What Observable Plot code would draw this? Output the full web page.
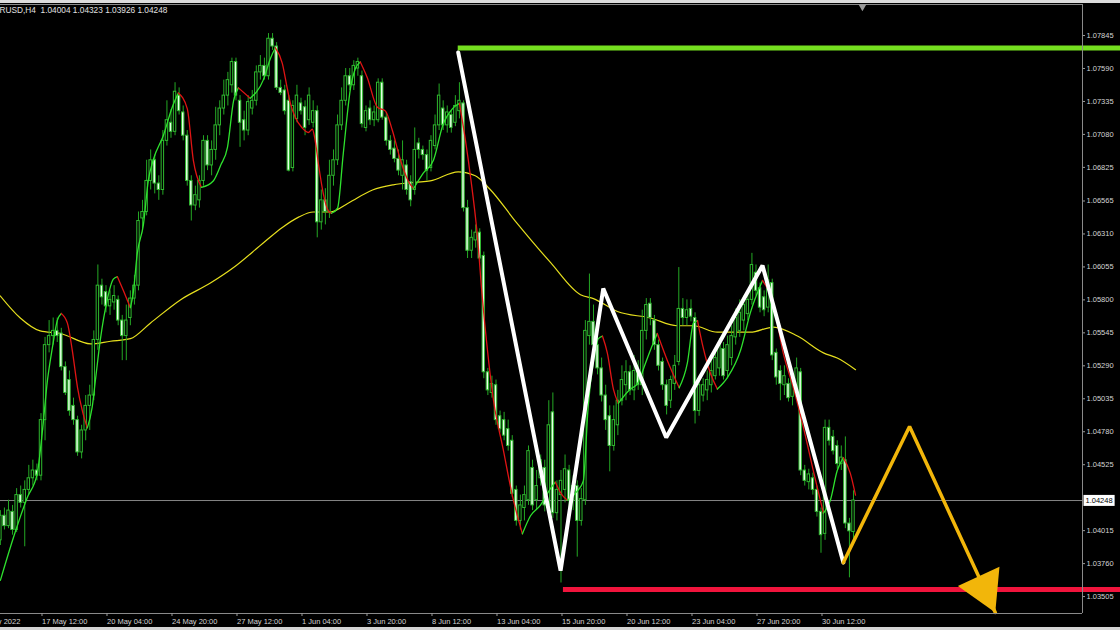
<!DOCTYPE html>
<html><head><meta charset="utf-8">
<script src="https://cdn.jsdelivr.net/npm/d3@7"></script>
<script src="https://cdn.jsdelivr.net/npm/@observablehq/plot@0.6"></script>
<style>
html,body{margin:0;padding:0;background:#000;width:1120px;height:630px;overflow:hidden;}
#topstrip{height:3px;background:#dcdcdc;}
#botstrip{height:3px;background:#d4d4d4;}
#wrap{position:relative;height:624px;}
#title{position:absolute;left:-12px;top:2px;font:8.3px "Liberation Sans",Arial,sans-serif;color:#e0e0e0;white-space:pre;}
</style></head>
<body>
<div id="topstrip"></div>
<div id="wrap"><div id="title">EURUSD,H4  1.04004 1.04323 1.03926 1.04248</div></div>
<div id="botstrip"></div>
<script>
// ---- candle data (H4 bars, index 0 = first visible bar) ----
const barOpen = [
1.0394,1.0413,1.0405,1.0416,1.0402,1.0429,1.0423,1.0433,1.0442,1.0448,
1.0444,1.0487,1.0545,1.0552,1.0556,1.0554,1.0528,1.0518,1.0498,1.0487,
1.0462,1.0479,1.0498,1.0506,1.0549,1.0591,1.0586,1.0575,1.0578,1.0580,
1.0564,1.0552,1.0566,1.0581,1.0591,1.0643,1.0648,1.0672,1.0688,1.0670,
1.0665,1.0703,1.0717,1.0710,1.0738,1.0725,1.0707,1.0672,1.0653,1.0657,
1.0672,1.0703,1.0684,1.0696,1.0715,1.0728,1.0738,1.0746,1.0764,1.0734,
1.0719,1.0711,1.0728,1.0734,1.0756,1.0761,1.0753,1.0782,1.0776,1.0744,
1.0742,1.0734,1.0682,1.0720,1.0732,1.0729,1.0719,1.0717,1.0726,1.0640,
1.0657,1.0648,1.0676,1.0688,1.0715,1.0734,1.0753,1.0746,1.0759,1.0753,
1.0713,1.0728,1.0719,1.0719,1.0748,1.0721,1.0703,1.0697,1.0689,1.0676,
1.0684,1.0671,1.0665,1.0701,1.0696,1.0692,1.0682,1.0699,1.0715,1.0728,
1.0715,1.0723,1.0717,1.0726,1.0732,1.0651,1.0618,1.0626,1.0632,1.0614,
1.0524,1.0508,1.0514,1.0490,1.0487,1.0480,1.0471,1.0433,1.0409,1.0419,
1.0425,1.0450,1.0425,1.0442,1.0450,1.0421,1.0493,1.0415,1.0429,1.0433,
1.0448,1.0425,1.0436,1.0409,1.0425,1.0552,1.0563,1.0545,1.0527,1.0506,
1.0490,1.0467,1.0483,1.0502,1.0514,1.0524,1.0510,1.0525,1.0514,1.0556,
1.0577,1.0564,1.0545,1.0532,1.0514,1.0502,1.0515,1.0532,1.0573,1.0566,
1.0573,1.0566,1.0494,1.0506,1.0510,1.0514,1.0521,1.0527,1.0542,1.0525,
1.0535,1.0551,1.0556,1.0564,1.0569,1.0580,1.0601,1.0589,1.0582,1.0574,
1.0593,1.0539,1.0525,1.0514,1.0515,1.0505,1.0510,1.0524,1.0448,1.0439,
1.0442,1.0433,1.0416,1.0399,1.0481,1.0474,1.0467,1.0453,1.0456,1.0407,
1.04004];
const barHigh = [
1.0417,1.0419,1.0425,1.0421,1.0434,1.0436,1.0440,1.0452,1.0456,1.0453,
1.0492,1.0551,1.0564,1.0566,1.0566,1.0558,1.0532,1.0525,1.0504,1.0490,
1.0483,1.0506,1.0514,1.0556,1.0607,1.0596,1.0591,1.0587,1.0591,1.0583,
1.0568,1.0576,1.0587,1.0599,1.0648,1.0657,1.0688,1.0696,1.0692,1.0676,
1.0711,1.0734,1.0727,1.0748,1.0744,1.0730,1.0711,1.0676,1.0668,1.0676,
1.0707,1.0707,1.0703,1.0729,1.0734,1.0750,1.0756,1.0767,1.0767,1.0738,
1.0726,1.0738,1.0742,1.0761,1.0769,1.0767,1.0786,1.0786,1.0779,1.0750,
1.0746,1.0738,1.0734,1.0746,1.0736,1.0734,1.0744,1.0734,1.0730,1.0665,
1.0666,1.0688,1.0696,1.0723,1.0744,1.0759,1.0759,1.0765,1.0767,1.0757,
1.0730,1.0734,1.0730,1.0751,1.0751,1.0725,1.0707,1.0703,1.0696,1.0703,
1.0688,1.0676,1.0713,1.0705,1.0699,1.0696,1.0707,1.0723,1.0747,1.0734,
1.0730,1.0726,1.0738,1.0748,1.0734,1.0657,1.0634,1.0638,1.0635,1.0617,
1.0527,1.0521,1.0518,1.0494,1.0493,1.0487,1.0475,1.0436,1.0429,1.0436,
1.0467,1.0456,1.0448,1.0460,1.0456,1.0502,1.0508,1.0440,1.0448,1.0460,
1.0452,1.0444,1.0440,1.0434,1.0564,1.0600,1.0576,1.0552,1.0535,1.0514,
1.0498,1.0498,1.0510,1.0529,1.0533,1.0529,1.0537,1.0533,1.0572,1.0581,
1.0581,1.0568,1.0549,1.0535,1.0518,1.0521,1.0537,1.0605,1.0581,1.0580,
1.0580,1.0570,1.0521,1.0519,1.0525,1.0533,1.0542,1.0550,1.0547,1.0552,
1.0560,1.0573,1.0580,1.0583,1.0586,1.0616,1.0607,1.0593,1.0587,1.0607,
1.0596,1.0542,1.0529,1.0529,1.0519,1.0525,1.0535,1.0527,1.0452,1.0449,
1.0446,1.0436,1.0419,1.0487,1.0487,1.0479,1.0471,1.0467,1.0474,1.0411,
1.04323];
const barLow = [
1.0390,1.0402,1.0403,1.0398,1.0400,1.0419,1.0389,1.0429,1.0436,1.0440,
1.0440,1.0471,1.0539,1.0545,1.0547,1.0525,1.0506,1.0490,1.0483,1.0459,
1.0457,1.0471,1.0479,1.0502,1.0541,1.0576,1.0570,1.0568,1.0572,1.0560,
1.0533,1.0533,1.0560,1.0576,1.0587,1.0635,1.0645,1.0665,1.0662,1.0657,
1.0661,1.0699,1.0705,1.0707,1.0723,1.0703,1.0668,1.0641,1.0649,1.0651,
1.0668,1.0680,1.0676,1.0688,1.0707,1.0723,1.0730,1.0740,1.0734,1.0698,
1.0703,1.0707,1.0723,1.0730,1.0750,1.0750,1.0750,1.0773,1.0742,1.0738,
1.0723,1.0679,1.0679,1.0717,1.0723,1.0707,1.0715,1.0713,1.0628,1.0634,
1.0638,1.0643,1.0668,1.0684,1.0711,1.0730,1.0742,1.0742,1.0753,1.0713,
1.0710,1.0715,1.0714,1.0717,1.0719,1.0699,1.0692,1.0686,1.0676,1.0665,
1.0661,1.0652,1.0661,1.0689,1.0688,1.0672,1.0679,1.0696,1.0711,1.0711,
1.0709,1.0709,1.0714,1.0720,1.0648,1.0612,1.0612,1.0620,1.0609,1.0519,
1.0506,1.0504,1.0483,1.0477,1.0471,1.0463,1.0427,1.0405,1.0402,1.0409,
1.0421,1.0417,1.0417,1.0436,1.0416,1.0417,1.0411,1.0409,1.0361,1.0423,
1.0419,1.0417,1.0381,1.0405,1.0421,1.0545,1.0537,1.0522,1.0501,1.0479,
1.0447,1.0463,1.0475,1.0498,1.0502,1.0506,1.0502,1.0510,1.0506,1.0549,
1.0560,1.0541,1.0525,1.0510,1.0491,1.0496,1.0510,1.0529,1.0560,1.0560,
1.0563,1.0484,1.0490,1.0501,1.0502,1.0508,1.0518,1.0521,1.0518,1.0519,
1.0529,1.0545,1.0551,1.0556,1.0564,1.0576,1.0583,1.0570,1.0567,1.0570,
1.0533,1.0514,1.0502,1.0506,1.0501,1.0498,1.0505,1.0444,1.0436,1.0433,
1.0429,1.0412,1.0384,1.0394,1.0467,1.0460,1.0449,1.0448,1.0403,1.0365,
1.03926];
const barClose = [
1.0413,1.0405,1.0417,1.0402,1.0429,1.0423,1.0433,1.0442,1.0448,1.0444,
1.0487,1.0545,1.0552,1.0556,1.0552,1.0528,1.0508,1.0494,1.0487,1.0462,
1.0479,1.0498,1.0506,1.0549,1.0591,1.0582,1.0575,1.0580,1.0583,1.0564,
1.0552,1.0564,1.0581,1.0591,1.0641,1.0648,1.0672,1.0688,1.0670,1.0665,
1.0703,1.0719,1.0710,1.0741,1.0726,1.0707,1.0672,1.0653,1.0661,1.0672,
1.0703,1.0684,1.0696,1.0715,1.0728,1.0738,1.0750,1.0764,1.0738,1.0717,
1.0711,1.0733,1.0734,1.0756,1.0761,1.0753,1.0782,1.0776,1.0744,1.0740,
1.0726,1.0680,1.0730,1.0738,1.0726,1.0713,1.0738,1.0726,1.0640,1.0657,
1.0648,1.0676,1.0688,1.0715,1.0734,1.0753,1.0746,1.0761,1.0764,1.0716,
1.0726,1.0719,1.0725,1.0748,1.0721,1.0703,1.0696,1.0689,1.0680,1.0688,
1.0665,1.0657,1.0696,1.0696,1.0692,1.0680,1.0703,1.0715,1.0738,1.0715,
1.0725,1.0713,1.0730,1.0734,1.0651,1.0618,1.0628,1.0632,1.0612,1.0524,
1.0510,1.0515,1.0487,1.0480,1.0475,1.0467,1.0430,1.0409,1.0421,1.0429,
1.0463,1.0421,1.0436,1.0456,1.0421,1.0483,1.0415,1.0433,1.0440,1.0449,
1.0425,1.0436,1.0409,1.0426,1.0556,1.0563,1.0545,1.0527,1.0506,1.0487,
1.0467,1.0487,1.0502,1.0518,1.0524,1.0510,1.0525,1.0514,1.0556,1.0576,
1.0566,1.0545,1.0529,1.0514,1.0498,1.0518,1.0529,1.0573,1.0566,1.0572,
1.0567,1.0494,1.0514,1.0514,1.0518,1.0525,1.0535,1.0545,1.0521,1.0545,
1.0552,1.0566,1.0570,1.0576,1.0580,1.0607,1.0587,1.0574,1.0572,1.0595,
1.0537,1.0520,1.0515,1.0521,1.0504,1.0519,1.0527,1.0448,1.0440,1.0445,
1.0433,1.0416,1.0398,1.0481,1.0471,1.0463,1.0453,1.0458,1.0407,1.0401,
1.04248];

// ---- fast moving average, u = rising (green), d = falling (red) ----
const fastBars = [0,3.2,6.6,9.1,10.3,11.6,12.8,14.0,15.0,16.5,17.7,19.0,20.2,21.4,22.6,23.4,24.6,26.3,27.8,28.8,30.3,32.0,32.7,33.7,35.2,36.4,37.7,40.1,42.3,43.8,46.0,47.5,49.5,52.4,54.2,55.9,57.4,58.6,61.5,64.7,66.5,67.7,69.4,70.6,71.4,72.6,74.3,75.8,76.8,77.5,78.3,79.5,80.7,81.5,83.0,84.4,86.2,87.4,88.6,90.3,92.8,94.8,96.5,98.5,100.4,101.7,104.1,106.6,109.0,111.3,113.0,114.5,115.7,117.4,118.6,119.9,121.4,123.8,126.0,128.5,130.5,132.9,135.4,136.6,138.3,139.6,142.0,143.5,144.7,146.0,147.2,148.2,149.4,150.9,152.1,155.1,156.8,158.8,160.0,161.7,164.2,167.1,169.1,170.6,171.6,173.0,174.8,176.5,179.0,182.2,184.6,187.6,190.3,192.7,195.2,197.7,200.1,202.6,204.3,206.0,207.5,209.2,210.5];
const fastPrices = [1.0363,1.0396,1.0427,1.0446,1.0477,1.0518,1.0543,1.0564,1.05695,1.0562,1.0541,1.0512,1.0494,1.0481,1.0497,1.0518,1.0549,1.0580,1.0596,1.0598,1.0587,1.0574,1.0585,1.0616,1.0638,1.0672,1.0689,1.0707,1.0729,1.0740,1.0728,1.0688,1.0667,1.0672,1.0684,1.0698,1.0734,1.0744,1.0736,1.0750,1.0767,1.0775,1.0763,1.0744,1.0732,1.0721,1.0713,1.07095,1.0712,1.0703,1.0685,1.0662,1.0649,1.0647,1.0651,1.0693,1.0744,1.0759,1.0764,1.0752,1.0729,1.0726,1.0711,1.0688,1.0672,1.0666,1.0678,1.0688,1.0716,1.0728,1.0732,1.0703,1.0676,1.0630,1.0583,1.0541,1.0502,1.0464,1.0429,1.0399,1.0413,1.0421,1.0434,1.0439,1.0429,1.0425,1.0432,1.0440,1.0498,1.0533,1.0550,1.0552,1.0539,1.0511,1.0500,1.0511,1.0515,1.0531,1.0541,1.0554,1.0533,1.0512,1.0531,1.0562,1.0564,1.0543,1.0523,1.0511,1.0520,1.0541,1.0570,1.0595,1.0577,1.0539,1.0512,1.0481,1.0448,1.0415,1.0425,1.0448,1.0458,1.0446,1.0429];
const fastDir = ["u","u","u","u","u","u","u","u","d","d","d","d","d","u","u","u","u","u","u","d","d","u","u","u","u","u","u","u","u","d","d","d","u","u","u","u","u","d","u","u","u","d","d","d","d","d","d","d","d","d","d","d","d","u","u","u","u","u","d","d","d","d","d","d","d","u","u","u","u","u","d","d","d","d","d","d","d","d","d","u","u","u","u","d","d","u","u","u","u","u","u","d","d","d","u","u","u","u","u","d","d","u","u","u","d","d","d","u","u","u","u","d","d","d","d","d","d","u","u","u","d","d","d"];

// ---- slow (yellow) moving average ----
const slowBars = [0,4.9,9.8,14.8,22.2,27.1,32.0,36.9,44.3,51.7,57.4,64.7,69.4,73.4,77.0,81.2,85.7,91.6,96.7,102.2,105.8,112.7,116.9,120.4,127.0,135.4,142.8,146.0,151.9,160.0,166.6,170.6,176.5,184.6,190.3,196.2,202.6,206.0,210.5];
const slowPrices = [1.0583,1.0566,1.0556,1.0554,1.0546,1.0548,1.0550,1.0562,1.0580,1.0593,1.0605,1.0624,1.0636,1.0644,1.0648,1.0648,1.0655,1.0665,1.0669,1.0671,1.0672,1.0679,1.0676,1.0666,1.0640,1.0609,1.0584,1.0581,1.0571,1.0566,1.0560,1.0560,1.0555,1.0555,1.0559,1.0552,1.0539,1.0535,1.0526];

// ---- drawn objects ----
const zigBars = [112.7,137.9,148.4,163.9,187.6,207.5];
const zigPrices = [1.07714,1.03706,1.05888,1.04735,1.06066,1.03768];
const arrowBars = [207.5,223.8,244.9];
const arrowPrices = [1.03768,1.04820,1.03382];
const resistance = {fromBar: 112.7, price: 1.07749};
const support = {fromBar: 138.6, price: 1.03560};
const rayEndBar = 276;
const shiftBar = 212.2;

// ---- axes ----
const priceTicks = [1.07845,1.07590,1.07335,1.07080,1.06825,1.06565,1.06310,1.06055,1.05800,1.05545,1.05290,1.05035,1.04780,1.04525,1.04015,1.03760,1.03505];
const timeTickBars = [-6,10,26,42,58,74,90,106,122,138,154,170,186,202];
const timeTickLabels = ["12 May 2022","17 May 12:00","20 May 04:00","24 May 20:00","27 May 12:00","1 Jun 04:00","3 Jun 20:00","8 Jun 12:00","13 Jun 04:00","15 Jun 20:00","20 Jun 12:00","23 Jun 04:00","27 Jun 20:00","30 Jun 12:00"];

const xDomain = [0.031, 266.37];
const yDomain = [1.03374, 1.08085];

const bars = barOpen.map((o, i) => ({i, open: o, high: barHigh[i], low: barLow[i], close: barClose[i]}));
const lastClose = barClose[barClose.length - 1];
const fmt5 = d3.format(".5f");

// fast MA split into coloured runs
const runs = [];
let cur = null;
fastBars.forEach((b, i) => {
  const p = {bar: b, price: fastPrices[i]};
  const dir = fastDir[i];
  if (!cur || cur.dir !== dir) {
    if (cur) cur.pts.push(p);
    if (i < fastBars.length - 1) { cur = {dir, pts: [p]}; runs.push(cur); }
  } else cur.pts.push(p);
});
const fastSeg = runs.flatMap((r, k) => r.pts.map(p => ({...p, run: k, dir: r.dir})));
const slow = slowBars.map((b, i) => ({bar: b, price: slowPrices[i]}));
const zig = zigBars.map((b, i) => ({bar: b, price: zigPrices[i]}));
const arrow = arrowBars.map((b, i) => ({bar: b, price: arrowPrices[i]}));
const labelMap = new Map(timeTickBars.map((b, i) => [b, timeTickLabels[i]]));

const W = 1120, H = 624, mL = 0, mR = 38, mT = 1, mB = 14;
// arrow head orientation from the last arrow segment in screen space
const sx = d3.scaleLinear(xDomain, [mL, W - mR]);
const sy = d3.scaleLinear(yDomain, [H - mB, mT]);
const a0 = arrow[arrow.length - 2], a1 = arrow[arrow.length - 1];
const vx = sx(a1.bar) - sx(a0.bar), vy = sy(a1.price) - sy(a0.price);
const vlen = Math.hypot(vx, vy);
const headR = 17;
const headBack = headR * Math.sqrt(Math.PI) * 2 / Math.sqrt(3 * Math.sqrt(3));
const headRot = Math.atan2(vx, -vy) * 180 / Math.PI;

const green = "#24a824";
const chart = Plot.plot({
  width: W, height: H, marginLeft: mL, marginRight: mR, marginTop: mT, marginBottom: mB,
  style: {background: "#000", color: "#d8d8d8", fontFamily: "'Liberation Sans', Arial, sans-serif", fontSize: "7.5px"},
  x: {type: "linear", domain: xDomain, axis: null},
  y: {type: "linear", domain: yDomain, axis: null},
  marks: [
    Plot.ruleY([lastClose], {stroke: "#858585", strokeWidth: 1}),
    Plot.line(slow, {x: "bar", y: "price", stroke: "#e6df1e", strokeWidth: 1.2, curve: "monotone-x", clip: true}),
    Plot.ruleX(bars, {x: "i", y1: "low", y2: "high", stroke: green, strokeWidth: 1, clip: true}),
    Plot.rect(bars, {x1: d => d.i - 0.3, x2: d => d.i + 0.3, y1: "open", y2: "close",
      fill: d => d.close >= d.open ? "#000" : "#e8ffe8", stroke: "#2fb82f", strokeWidth: 1, clip: true}),
    Plot.line(fastSeg, {x: "bar", y: "price", z: "run", stroke: d => d.dir === "u" ? "#2ee22e" : "#e01414", strokeWidth: 1.3, curve: "monotone-x", clip: true}),
    Plot.ruleY([resistance], {y: "price", x1: "fromBar", x2: () => rayEndBar, stroke: "#74de1f", strokeWidth: 5}),
    Plot.ruleY([support], {y: "price", x1: "fromBar", x2: () => rayEndBar, stroke: "#f0143c", strokeWidth: 5}),
    Plot.line(zig, {x: "bar", y: "price", stroke: "#ffffff", strokeWidth: 4, strokeLinejoin: "miter"}),
    Plot.line(arrow, {x: "bar", y: "price", stroke: "#f2b60a", strokeWidth: 3.5, strokeLinejoin: "miter"}),
    Plot.dot([a1], {x: "bar", y: "price", symbol: "triangle", r: headR, rotate: headRot, fill: "#f2b60a", stroke: null,
      dx: -vx / vlen * headBack, dy: -vy / vlen * headBack}),
    Plot.ruleX([xDomain[1]], {stroke: "#8a8a8a"}),
    Plot.ruleY([yDomain[0]], {stroke: "#8a8a8a"}),
    Plot.ruleY([yDomain[1]], {stroke: "#8a8a8a"}),
    Plot.dot([shiftBar], {x: d => d, y: () => yDomain[1], symbol: "triangle", r: 3, rotate: 180, fill: "#9a9a9a", dy: 2}),
    Plot.axisY(priceTicks, {anchor: "right", tickSize: 2, tickPadding: 2, tickFormat: fmt5, stroke: "#9a9a9a", fill: "#d4d4d4", label: null}),
    Plot.axisX(timeTickBars, {anchor: "bottom", tickSize: 3, tickPadding: 2, textAnchor: "start", dx: 1, tickFormat: d => labelMap.get(d), stroke: "#9a9a9a", fill: "#d4d4d4", label: null}),
    Plot.text([lastClose], {x: () => xDomain[1], y: d => d, text: d => fmt5(d), dx: 3, textAnchor: "start", fill: "#000000", fontSize: 7.5})
  ]
});
const wrap = document.getElementById("wrap");
chart.style.position = "absolute"; chart.style.left = "0"; chart.style.top = "0";
wrap.insertBefore(chart, wrap.firstChild);
// white box behind the current-price label
const labelText = fmt5(lastClose);
Array.from(chart.querySelectorAll("text"))
  .filter(t => t.textContent === labelText)
  .forEach(t => {
    const bb = t.getBBox();
    const r = document.createElementNS("http://www.w3.org/2000/svg", "rect");
    r.setAttribute("x", bb.x - 2); r.setAttribute("y", bb.y - 1);
    r.setAttribute("width", bb.width + 4); r.setAttribute("height", bb.height + 2);
    r.setAttribute("fill", "#ffffff");
    const tf = t.getAttribute("transform");
    if (tf) r.setAttribute("transform", tf);
    t.parentNode.insertBefore(r, t);
  });
</script>
</body></html>
